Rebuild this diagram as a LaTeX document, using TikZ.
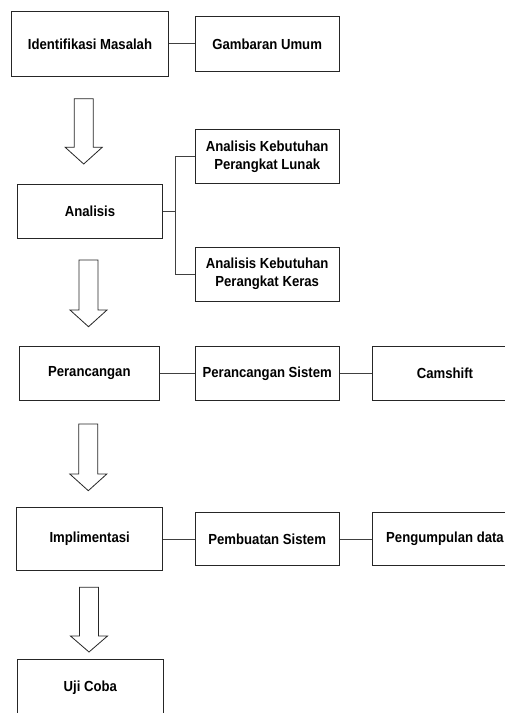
\documentclass[tikz,border=0pt]{standalone}
\usepackage{fontspec}
\setmainfont{Liberation Sans}[FakeStretch=0.9]
\begin{document}
\begin{tikzpicture}[x=1pt,y=-1pt,
  box/.style={draw=black!85,line width=0.8pt,rectangle,inner sep=0pt,align=center,
    font=\fontsize{14.6}{18}\selectfont\bfseries},
  link/.style={draw=black!75,line width=0.8pt},
  blk/.style={draw=black!85,line width=0.8pt,fill=white}]
\useasboundingbox (0,0) rectangle (505,713);
\clip (0,0) rectangle (505,713);
\fill[white] (0,0) rectangle (505,713);
\newcommand\blockarrow[4]{% cx, top, headbase, tip
  \draw[blk] (#1-9.5,#2) -- (#1+9.5,#2) -- (#1+9.5,#3) -- (#1+18.5,#3) -- (#1,#4)
    -- (#1-18.5,#3) -- (#1-9.5,#3) -- cycle;}
% nodes
\node[box,minimum width=156.6pt,minimum height=64.3pt] (idm) at (90,43.8) {Identifikasi Masalah};
\node[box,minimum width=144.3pt,minimum height=54.3pt] (gu) at (267.2,43.8) {Gambaran Umum};
\node[box,minimum width=144.3pt,minimum height=54pt] (akl) at (267.2,156.3) {Analisis Kebutuhan\\Perangkat Lunak};
\node[box,minimum width=144.6pt,minimum height=54pt] (an) at (90,211.3) {Analisis};
\node[box,minimum width=144.3pt,minimum height=54pt] (akk) at (267.2,274) {Analisis Kebutuhan\\Perangkat Keras};
\node[box,minimum width=140pt,minimum height=54.7pt] (per) at (89.3,373.3) {Perancangan};
\node[box,minimum width=144.3pt,minimum height=54.7pt] (ps) at (267.2,373.3) {Perancangan Sistem};
\node[box,minimum width=145.4pt,minimum height=54.7pt] (cam) at (445,373.3) {Camshift};
\node[box,minimum width=146pt,minimum height=62.3pt] (imp) at (89.7,539) {Implimentasi};
\node[box,minimum width=144.3pt,minimum height=53.4pt] (pbs) at (267.2,539) {Pembuatan Sistem};
\node[box,minimum width=145.4pt,minimum height=53.4pt] (pd) at (445,539) {Pengumpulan data};
\node[box,minimum width=146pt,minimum height=58pt] (uji) at (90.3,688) {Uji Coba};
% connectors
\draw[link] (idm.east) -- (gu.west);
\coordinate (br) at (175,211.3);
\draw[link] (an.east) -- (br);
\draw[link] (akl.west) -| (br);
\draw[link] (akk.west) -| (br);
\draw[link] (per.east) -- (ps.west);
\draw[link] (ps.east) -- (cam.west);
\draw[link] (imp.east) -- (pbs.west);
\draw[link] (pbs.east) -- (pd.west);
% block arrows
\blockarrow{83.7}{98.7}{147.3}{164}
\blockarrow{88.5}{260}{310}{326.7}
\blockarrow{88.3}{424}{474}{490.7}
\blockarrow{89}{587.3}{636}{652}
\end{tikzpicture}
\end{document}
